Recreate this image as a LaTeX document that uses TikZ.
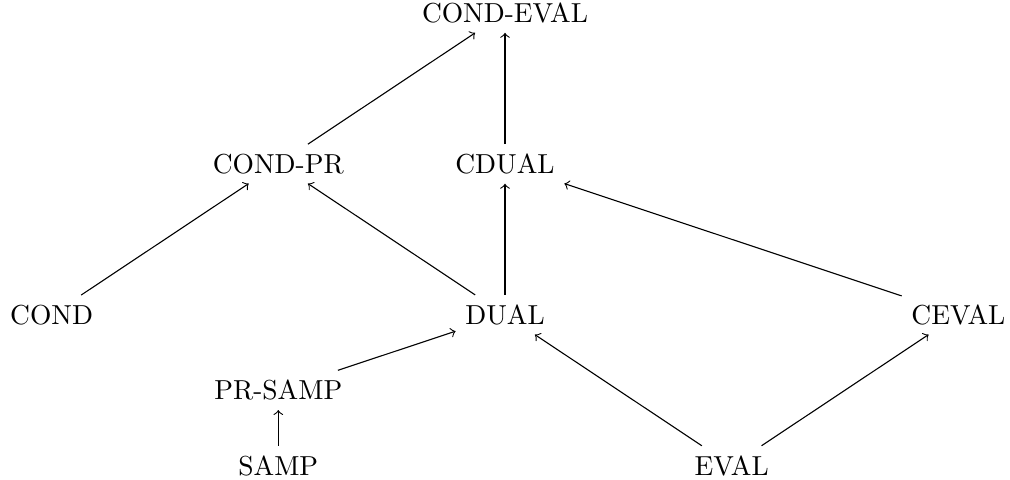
\documentclass[tikz,border=0pt]{standalone}
\begin{document}
\begin{tikzpicture}[x=2.9cm,y=0.965cm]
                \useasboundingbox (-0.2276,0.172) rectangle (4.2276,-6.187);
                \node(CONDEVAL) at (2,0) {COND-EVAL};
                \node(CONDPR) at (1,-2) {COND-PR};
                \node(CDUAL) at (2,-2) {CDUAL};
                \node(COND) at (0,-4) {COND};
                \node(DUAL) at (2,-4) {DUAL};
                \node(CEVAL) at (4,-4) {CEVAL};
                \node(PRSAMP) at (1,-5) {PR-SAMP};
                \node(SAMP) at (1,-6) {SAMP};
                \node(EVAL) at (3,-6) {EVAL};
                \draw[->] (CONDPR) -- (CONDEVAL);
                \draw[->] (CDUAL) -- (CONDEVAL);
                \draw[->] (COND) -- (CONDPR);
                \draw[->] (DUAL) -- (CONDPR);
                \draw[->] (DUAL) -- (CDUAL);
                \draw[->] (CEVAL) -- (CDUAL);
                \draw[->] (PRSAMP) -- (DUAL);
                \draw[->] (SAMP) -- (PRSAMP);
                \draw[->] (EVAL) -- (DUAL);
                \draw[->] (EVAL) -- (CEVAL);
            \end{tikzpicture}
\end{document}
